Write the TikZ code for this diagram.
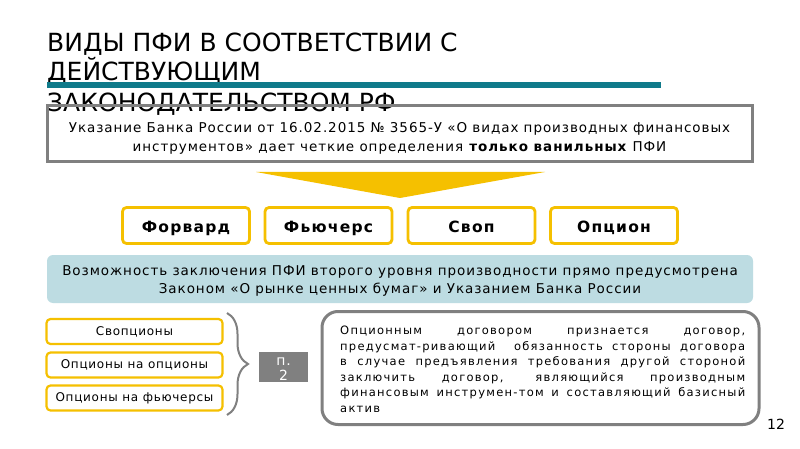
\documentclass[tikz,border=0pt]{standalone}
\usepackage{fontspec}
\setmainfont{DejaVu Sans}
\newfontfamily\bodyf[LetterSpace=7]{DejaVu Sans}
\newfontfamily\boxf[LetterSpace=8]{DejaVu Sans}
\newfontfamily\smallf[LetterSpace=6]{DejaVu Sans}
\newfontfamily\parf[LetterSpace=11]{DejaVu Sans}
\usetikzlibrary{decorations.pathreplacing}
\definecolor{tealbar}{HTML}{0F7A8A}
\definecolor{lightband}{HTML}{BDDCE2}
\definecolor{gold}{HTML}{F5C000}
\definecolor{grayb}{HTML}{808080}
\tikzset{
  ybox/.style={draw=gold, line width=2.8pt, rounded corners=4pt, fill=white, minimum width=127pt, minimum height=36pt, font=\boxf\fontsize{15.5}{17}\selectfont\bfseries, inner sep=0pt, text height=15pt, text depth=0pt},
  sbox/.style={draw=gold, line width=2.2pt, rounded corners=4pt, fill=white, minimum width=176pt, minimum height=25pt, font=\smallf\fontsize{12}{14}\selectfont, inner sep=0pt},
  titleline/.style={anchor=base west, inner sep=0pt, font=\fontsize{25}{29}\selectfont},
  bodytext/.style={align=center, inner sep=0pt, font=\bodyf\fontsize{13.5}{18.5}\selectfont}
}
\begin{document}
\begin{tikzpicture}[x=1pt,y=-1pt]
\useasboundingbox (0,0) rectangle (800,449);
\fill[white] (0,0) rectangle (800,449);
% title
\node[titleline] (t1) at (47,52) {ВИДЫ ПФИ В СООТВЕТСТВИИ С};
\node[titleline] (t2) at (47,81) {ДЕЙСТВУЮЩИМ};
\fill[tealbar] (47,82) rectangle (661,88);
\node[titleline] (t3) at (47,112) {ЗАКОНОДАТЕЛЬСТВОМ РФ};
% gray box
\node[draw=grayb, line width=3pt, minimum width=705pt, minimum height=56pt, inner sep=0pt] (gb) at (399.5,133.5) {};
\node[bodytext] (gbt) at (399.5,138.5) {Указание Банка России от 16.02.2015 № 3565-У «О видах производных финансовых\\инструментов» дает четкие определения \textbf{только ванильных} ПФИ};
% triangle
\fill[gold] (256,172) coordinate (ta) -- (545,172) coordinate (tb) -- (400,198) coordinate (tc) -- cycle;
% four boxes
\node[ybox] (f1) at (186,225.5) {Форвард};
\node[ybox] (f2) at (328.5,225.5) {Фьючерс};
\node[ybox] (f3) at (471.5,225.5) {Своп};
\node[ybox] (f4) at (614,225.5) {Опцион};
% light band
\node[fill=lightband, rounded corners=6pt, minimum width=706pt, minimum height=48pt, inner sep=0pt] (lb) at (400,279) {};
\node[bodytext] (lbt) at (400,281) {Возможность заключения ПФИ второго уровня производности прямо предусмотрена\\Законом «О рынке ценных бумаг» и Указанием Банка России};
% small boxes
\node[sbox] (s1) at (134.5,331.5) {Свопционы};
\node[sbox] (s2) at (134.5,365) {Опционы на опционы};
\node[sbox] (s3) at (134.5,398) {Опционы на фьючерсы};
% brace
\coordinate (br1) at (227,313);
\coordinate (br2) at (227,415);
\draw[grayb, line width=2pt, decorate, decoration={brace, amplitude=21pt, aspect=0.5}] (br1) -- (br2);
% p.2 box
\node[fill=grayb, minimum width=49pt, minimum height=30pt, inner sep=0pt] (p2) at (283.5,367) {};
\node[align=center, text=white, inner sep=0pt, font=\smallf\fontsize{14}{15}\selectfont] (p2t) at (283.5,369) {п.\\2};
% big box
\node[draw=grayb, line width=3pt, rounded corners=16pt, fill=white, minimum width=437pt, minimum height=113pt, inner sep=0pt] (bb) at (540.5,368) {};
\node[anchor=north west, inner sep=0pt, align=left, font=\parf\fontsize{11.5}{15.5}\selectfont] (bbt) at (340,326) {%
\makebox[405pt][s]{Опционным договором признается договор,}\\
\makebox[405pt][s]{предусмат-ривающий\ \ обязанность стороны договора}\\
\makebox[405pt][s]{в случае предъявления требования другой стороной}\\
\makebox[405pt][s]{заключить договор, являющийся производным}\\
\makebox[405pt][s]{финансовым инструмен-том и составляющий базисный}\\
актив};
% page number
\node[anchor=base, inner sep=0pt, font=\fontsize{14}{16}\selectfont] (pn) at (776,429) {12};
\end{tikzpicture}
\end{document}
